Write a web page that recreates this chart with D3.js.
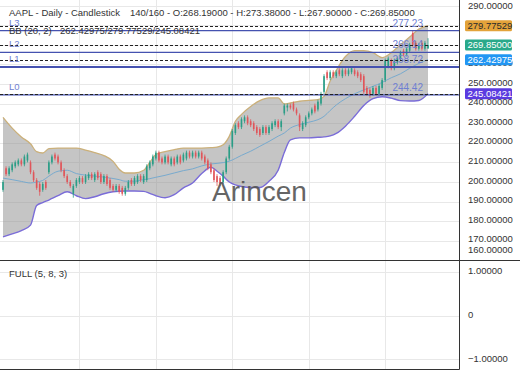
<!DOCTYPE html>
<html>
<head>
<meta charset="utf-8">
<script src="https://cdn.jsdelivr.net/npm/d3@7"></script>
<style>
  html, body { margin: 0; padding: 0; background: #fff; }
  svg { display: block; font-family: "Liberation Sans", Arial, sans-serif; }
</style>
</head>
<body>
<div id="chart"></div>
<script>
// ---- DATA ----
const opens  = [196,207,204,206,208,209,211,209,211,210, 205,201,199,196,200,205,210,214,213,210,
                206,203,200,194,198,200,202,200,202,204, 201,205,204,200,203,201,198,196,198,197,
                194,197,201,199,200,203,200,201,207,209, 212,215,212,210,213,209,212,210,213,211,
                212,215,213,215,213,215,213,211,209,206, 203,202,200,205,212,218,225,230,228,231,
                233,231,230,228,227,225,228,225,227,229, 231,228,235,238,239,240,237,234,227,229,
                233,235,239,237,240,246,256,253,256,254, 257,254,257,255,256,257,256,255,254,248,
                247,245,248,245,248,252,259,262,258,261, 263,267,265,267,276,271,268,271,268,268.19];
const highs  = [201,208,208,210,211,212,212,214,215,211, 206,202,200,200,201,211,214,215,214,211,
                207,204,201,199,202,203,203,204,205,205, 205,206,205,204,204,202,199,199,199,198,
                198,201,202,203,204,204,204,209,211,214, 216,216,213,214,214,213,213,214,214,215,
                216,216,216,216,216,216,214,212,210,207, 204,203,206,213,219,227,230,231,233,234,
                234,232,231,229,228,229,229,229,231,232, 232,232,240,240,240,241,238,235,231,234,
                236,238,240,242,246,255,257,257,257,257, 258,258,258,258,259,258,257,256,255,249,
                248,249,249,250,253,263,264,263,263,264, 267,268,269,271,277.5,272,271,272,272,273.38];
const lows   = [195,203,203,205,207,208,208,208,210,204, 200,196,193,195,196,204,209,211,209,205,
                202,199,197,192,197,199,199,199,201,201, 200,201,199,199,198,196,195,195,194,193,
                193,196,198,198,199,200,199,200,206,208, 211,210,209,209,209,208,208,209,209,210,
                211,212,212,212,212,211,209,206,204,200, 198,198,199,204,211,217,224,227,227,230,
                229,228,226,224,223,224,224,224,226,228, 227,226,234,236,237,236,234,226,226,228,
                232,234,235,236,239,245,252,252,253,253, 254,253,254,254,255,254,253,251,245,244,
                243,244,244,244,247,251,258,257,257,260, 262,264,264,266,269,267,267,267,267,267.90];
const closes = [200,204,207,209,210,211,209,213,214,205, 201,197,195,199,197,210,213,212,210,206,
                203,200,198,198,201,202,200,203,204,202, 204,202,200,203,199,197,196,198,195,194,
                197,200,199,202,203,201,203,208,210,213, 215,211,210,213,210,212,209,213,210,214,
                215,213,215,213,215,212,210,207,205,201, 200,199,205,212,218,226,229,228,232,233,
                230,229,227,225,224,228,225,228,230,231, 228,231,239,239,238,237,235,228,230,233,
                235,237,236,241,245,254,253,256,254,256, 255,257,255,257,258,255,254,252,246,245,
                244,248,245,249,252,262,263,258,262,263, 266,265,268,270,270,268,270,268,271,269.85];

// Bollinger Bands (20, 2), sampled at bar indices
const bbIdx   = [0,3,6,9,11,13,15,18,21,24,27,30,33,36,38,40,43,46,48,50,53,56,59,62,65,68,70,72,74,76,
                 78,81,84,87,90,92,94,97,100,103,105,107,109,112,115,118,121,124,127,130,133,136,139];
const bbUpper = [233,227.5,223,219.5,215.5,214.8,217,217.3,217.3,217.3,216.3,215,213.5,210.5,206.5,204.6,204.6,206,210,214,
                 215.5,216.5,217.3,217.3,217.3,217.5,217.8,219,223.3,231,234.5,238.5,241.5,242.9,242.9,239.8,240.3,241.2,241.6,242,
                 243.7,251.5,257,264,267,267,266,263.5,266,270,274,278,279.77529];
const bbMid   = [202,201.2,200.3,199.5,200,200.8,203,205.5,206,204.3,203.5,203,202.5,201.8,201.2,200.4,200.4,201.2,201.7,202.4,
                 203.4,204.6,205.8,206.7,208.2,209.2,209.5,209.9,210.6,212,213.6,215.7,218.2,220.7,223.4,225,227.5,229.3,230.5,231.8,
                 233.5,236.5,239.3,242.5,245,247,248.8,250.8,253.2,255.2,258,260.5,262.42975];
const bbLower = [172,173.5,175.2,178,188,189.5,190.8,193,195,193,191.5,192.5,194,195,195.3,195.4,195.4,195.2,194.2,193,
                 192,193.5,197,199.5,204.3,207.5,205.5,203,200,198.5,197.7,197.2,197.2,200.4,206,215,221.5,222.5,222.5,222.8,
                 223,223.5,224.8,228.5,233.5,239,242.5,243.5,242.8,241.5,241.3,241.6,245.08421];

const levelNames  = ["L0", "L1", "L2", "L3"];
const levelValues = [244.42, 258.72, 266.14, 277.23];

const priceTicks = [160,170,180,190,200,210,220,230,240,250,260,270,280,290];
const oscTicks   = [-1, 0, 1];
const tagValues  = [279.77529, 269.85, 262.42975, 245.08421];
const tagColors  = ["#e3a33a", "#29a98a", "#2196f3", "#5b3be0"];
const tagText    = ["#2a2a2a", "#fff", "#fff", "#fff"];
const xGridBars  = [25, 50, 75, 100, 125];

// ---- LAYOUT ----
const W = 520, H = 390;
const plotR = 459.5;
const mainBottom = 260.5;
const oscBottom = 369;

const svg = d3.select("#chart").append("svg").attr("width", W).attr("height", H);

const x = d3.scaleLinear().domain([0, 139]).range([3, 428]);
const y = d3.scaleLinear().domain([160, 290]).range([260.4, 5.6]);
const yo = d3.scaleLinear().domain([-1.25, 1.25]).range([370, 261]);

// grid
const grid = svg.append("g").attr("stroke", "#e8e8e8").attr("stroke-width", 1);
grid.selectAll(".hg").data(priceTicks).enter().append("line")
  .attr("x1", 0).attr("x2", plotR).attr("y1", d => Math.round(y(d)) + 0.5).attr("y2", d => Math.round(y(d)) + 0.5);
grid.selectAll(".vg").data(xGridBars).enter().append("line")
  .attr("x1", d => Math.round(x(d)) + 0.5).attr("x2", d => Math.round(x(d)) + 0.5)
  .attr("y1", 0).attr("y2", oscBottom);
grid.selectAll(".og").data(oscTicks).enter().append("line")
  .attr("x1", 0).attr("x2", plotR).attr("y1", d => Math.round(yo(d)) + 0.5).attr("y2", d => Math.round(yo(d)) + 0.5);

// Bollinger band
const bb = bbIdx.map((d, i) => ({ i: d, u: bbUpper[i], m: bbMid[i], l: bbLower[i] }));
svg.append("path").datum(bb)
  .attr("d", d3.area().x(d => x(d.i)).y0(d => y(d.l)).y1(d => y(d.u)).curve(d3.curveMonotoneX))
  .attr("fill", "rgba(140,140,140,0.5)");
svg.append("path").datum(bb)
  .attr("d", d3.line().x(d => x(d.i)).y(d => y(d.m)).curve(d3.curveMonotoneX))
  .attr("fill", "none").attr("stroke", "#78aace").attr("stroke-width", 1);
svg.append("path").datum(bb)
  .attr("d", d3.line().x(d => x(d.i)).y(d => y(d.u)).curve(d3.curveMonotoneX))
  .attr("fill", "none").attr("stroke", "#cbb07a").attr("stroke-width", 1.3);
svg.append("path").datum(bb)
  .attr("d", d3.line().x(d => x(d.i)).y(d => y(d.l)).curve(d3.curveMonotoneX))
  .attr("fill", "none").attr("stroke", "#7a6cd8").attr("stroke-width", 1.4);

// candles
const candles = closes.map((c, i) => ({ i, o: opens[i], h: highs[i], l: lows[i], c }));
const up = "#2a9d86", down = "#e0555a";
const cg = svg.append("g");
cg.selectAll("line").data(candles).enter().append("line")
  .attr("x1", d => x(d.i)).attr("x2", d => x(d.i))
  .attr("y1", d => y(d.h)).attr("y2", d => y(d.l))
  .attr("stroke", d => d.c >= d.o ? up : down).attr("stroke-width", 0.8);
cg.selectAll("rect").data(candles).enter().append("rect")
  .attr("x", d => x(d.i) - 0.8).attr("width", 1.6)
  .attr("y", d => y(Math.max(d.o, d.c)))
  .attr("height", d => Math.max(1, Math.abs(y(d.o) - y(d.c))))
  .attr("fill", d => d.c >= d.o ? up : down);

// level lines
svg.selectAll(".lvl").data(levelValues).enter().append("line")
  .attr("x1", 0).attr("x2", plotR)
  .attr("y1", d => y(d)).attr("y2", d => y(d))
  .attr("stroke", "#4552b0").attr("stroke-width", (d, i) => i === 1 ? 2 : 1.2);

// dashed value lines
svg.selectAll(".dl").data(tagValues).enter().append("line")
  .attr("x1", 0).attr("x2", plotR)
  .attr("y1", d => Math.round(y(d)) + 0.5).attr("y2", d => Math.round(y(d)) + 0.5)
  .attr("stroke", "#222").attr("stroke-width", 1).attr("stroke-dasharray", "3,2");

// level labels
svg.selectAll(".ln").data(levelNames).enter().append("text")
  .attr("x", 9).attr("y", (d, i) => y(levelValues[i]) - 5)
  .attr("font-size", 9.5).attr("fill", "#6f7fd2").text(d => d);
svg.selectAll(".lv").data(levelValues).enter().append("text")
  .attr("x", 423).attr("y", d => y(d) - 4).attr("text-anchor", "end")
  .attr("font-size", 10).attr("fill", "#6f7fd2").text(d => d3.format(".2f")(d));

// watermark
svg.append("text").attr("x", 212).attr("y", 201).attr("font-size", 28)
  .attr("fill", "#555").attr("opacity", 0.9).text("Arincen");

// headers
svg.append("text").attr("x", 9).attr("y", 16).attr("font-size", 9.5).attr("fill", "#333")
  .text("AAPL - Daily - Candlestick");
svg.append("text").attr("x", 130).attr("y", 16).attr("font-size", 9.5).attr("fill", "#333")
  .text("140/160 - O:268.19000 - H:273.38000 - L:267.90000 - C:269.85000");
svg.append("text").attr("x", 9).attr("y", 33.5).attr("font-size", 9.5).attr("fill", "#333")
  .text("BB (20, 2)");
svg.append("text").attr("x", 60).attr("y", 33.5).attr("font-size", 9.5).attr("fill", "#333")
  .text(bbMid[bbMid.length - 1] + "/" + bbUpper[bbUpper.length - 1] + "/" + bbLower[bbLower.length - 1]);
svg.append("text").attr("x", 9).attr("y", 276.5).attr("font-size", 9.5).attr("fill", "#333")
  .text("FULL (5, 8, 3)");

// borders
svg.append("line").attr("x1", 0).attr("x2", W).attr("y1", mainBottom).attr("y2", mainBottom)
  .attr("stroke", "#333").attr("stroke-width", 1);
svg.append("line").attr("x1", plotR).attr("x2", plotR).attr("y1", 0).attr("y2", oscBottom + 0.5)
  .attr("stroke", "#333").attr("stroke-width", 1);
svg.append("line").attr("x1", 0).attr("x2", plotR).attr("y1", oscBottom + 0.5).attr("y2", oscBottom + 0.5)
  .attr("stroke", "#333").attr("stroke-width", 1);

// price axis labels (the ones sitting right under a value tag are hidden by it)
const shownTicks = priceTicks.filter(t => tagValues.every(v => Math.abs(y(t) - y(v)) > 3));
svg.selectAll(".pt").data(shownTicks).enter().append("text")
  .attr("x", 468).attr("y", d => Math.max(Math.min(y(d) - 1, 250), 6))
  .attr("dominant-baseline", "middle").attr("font-size", 9.5).attr("fill", "#333")
  .text(d => d3.format(".5f")(d));
svg.selectAll(".ot").data(oscTicks).enter().append("text")
  .attr("x", 468).attr("y", d => yo(d))
  .attr("dominant-baseline", "middle").attr("font-size", 9.5).attr("fill", "#333")
  .text(d => d === 0 ? "0" : d3.format(".5f")(d));

// value tags
const tags = svg.selectAll(".tag").data(tagValues).enter().append("g")
  .attr("transform", d => `translate(465,${y(d)})`);
tags.append("rect").attr("x", 0).attr("y", -5.5).attr("width", 47).attr("height", 11).attr("rx", 1.5)
  .attr("fill", (d, i) => tagColors[i]);
tags.append("text").attr("x", 2.5).attr("y", 0.5).attr("dominant-baseline", "middle")
  .attr("font-size", 9.5).attr("fill", (d, i) => tagText[i]).text(d => d3.format(".5f")(d));
</script>
</body>
</html>
